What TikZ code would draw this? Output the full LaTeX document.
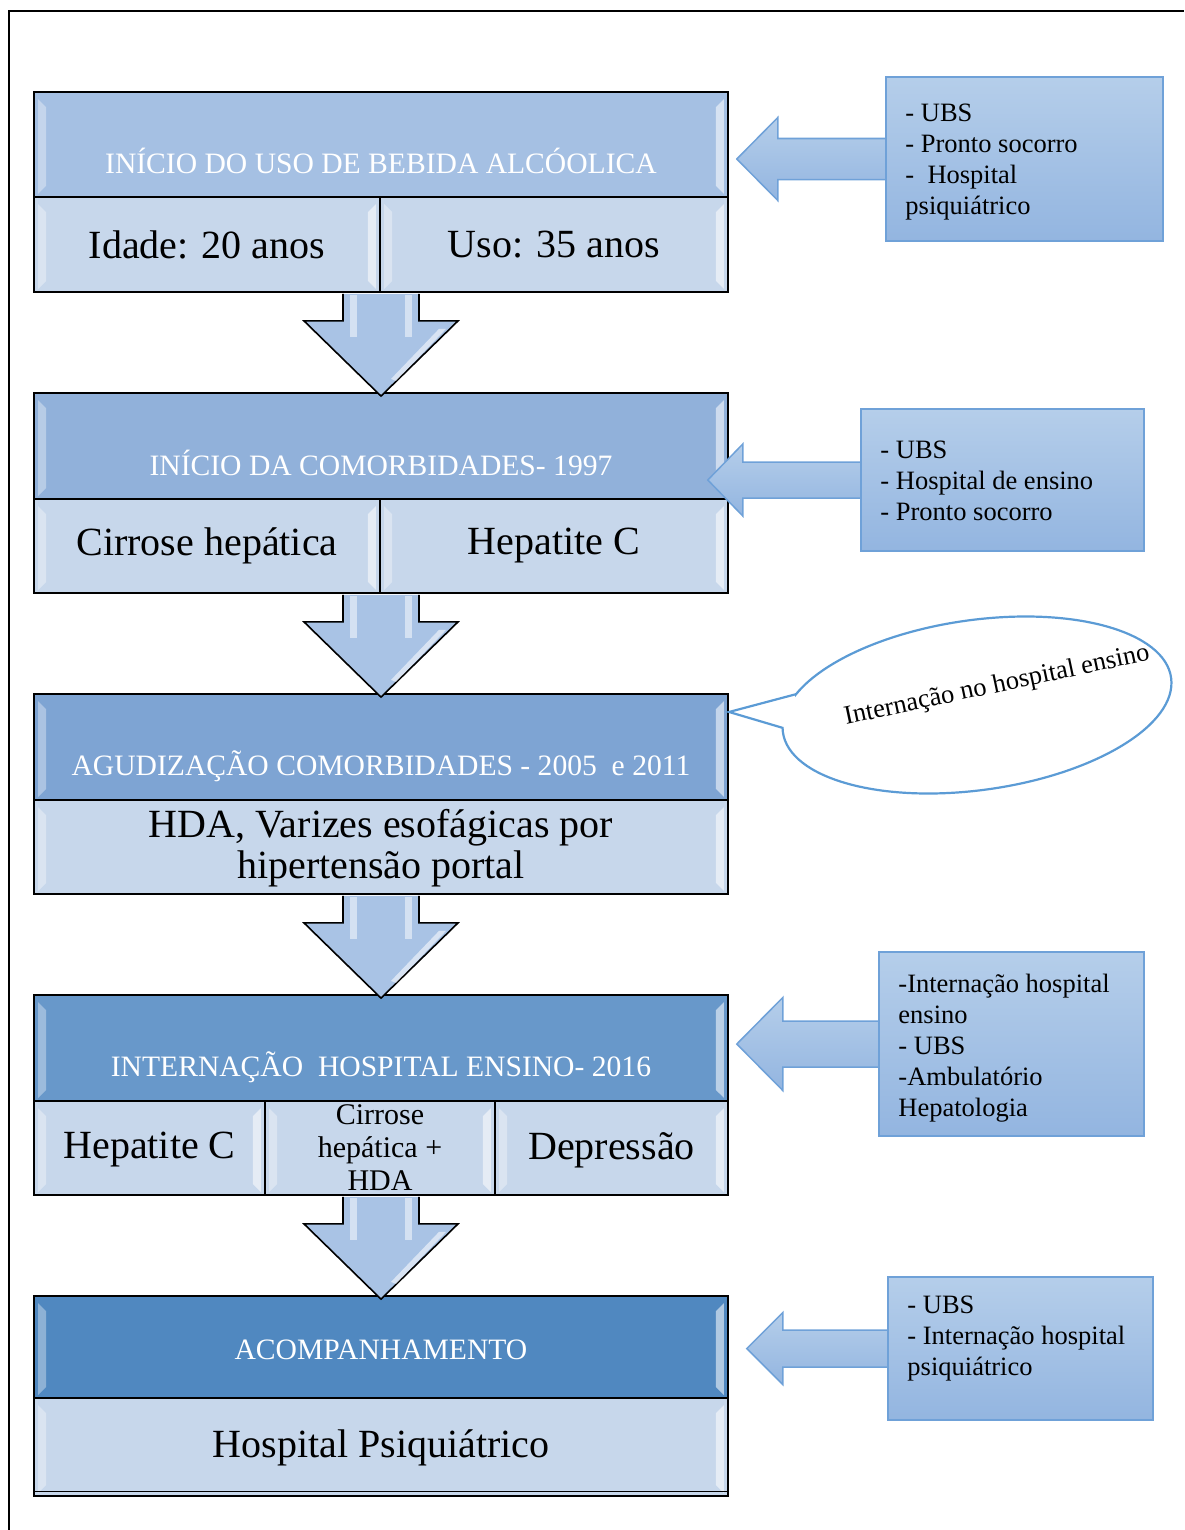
\documentclass[tikz,border=0pt]{standalone}
\usepackage{fontspec}
\setmainfont{Liberation Serif}
\usetikzlibrary{calc}

\definecolor{hdrA}{HTML}{A5C0E3}
\definecolor{hdrB}{HTML}{91B1DA}
\definecolor{hdrC}{HTML}{7EA4D3}
\definecolor{hdrD}{HTML}{6898CA}
\definecolor{hdrE}{HTML}{5088C0}
\definecolor{cellfill}{HTML}{C7D7EB}
\definecolor{arrowfill}{HTML}{A9C3E5}
\definecolor{sidetop}{HTML}{B5CEEA}
\definecolor{sidebot}{HTML}{93B5E0}
\definecolor{sideline}{HTML}{6FA1D8}
\definecolor{bubble}{HTML}{5B9BD5}

\tikzset{
  hdrbox/.style={draw=black, line width=1.8bp, minimum width=694bp, inner sep=0pt},
  cellbox/.style={draw=black, line width=1.8bp, fill=cellfill, inner sep=0pt},
  hdrtext/.style={text=white, font=\fontsize{29.6bp}{34bp}\selectfont, inner sep=0pt},
  celltext/.style={font=\fontsize{40bp}{41bp}\selectfont, align=center, inner sep=0pt},
  smalltext/.style={font=\fontsize{30bp}{33bp}\selectfont, align=center, inner sep=0pt},
  sidebox/.style={draw=sideline, line width=1.5bp, top color=sidetop, bottom color=sidebot, inner sep=0pt},
  sidetext/.style={font=\fontsize{26.5bp}{31bp}\selectfont, align=left, anchor=west, inner sep=0pt},
  sidearrow/.style={draw=sideline, line width=1.5bp, top color=sidetop, bottom color=sidebot, line join=miter},
  flowarrow/.style={draw=black, line width=1.6bp, fill=arrowfill, line join=miter},
  bubbleline/.style={draw=bubble, line width=2.2bp, fill=white},
}

% glossy edge strips inside a box
\newcommand\bevel[1]{%
  \fill[white, opacity=.35] ($(#1.north west)+(5,8)$) -- ($(#1.north west)+(13,16)$)
     -- ($(#1.south west)+(13,-12)$) -- ($(#1.south west)+(5,-4)$) -- cycle;
  \fill[white, opacity=.55] ($(#1.north east)+(-5,8)$) -- ($(#1.north east)+(-13,16)$)
     -- ($(#1.south east)+(-13,-12)$) -- ($(#1.south east)+(-5,-4)$) -- cycle;
}

% block arrow pointing down from coordinate #1 to the top of node #2
\newcommand\flowdown[2]{%
  \path[flowarrow] ($(#1)+(-38,1)$) -- ($(#1)+(-38,28)$) -- ($(#1)+(-77,28)$)
     -- ($(#2.north)+(0,4)$) -- ($(#1)+(77,28)$) -- ($(#1)+(38,28)$) -- ($(#1)+(38,1)$);
  \fill[white, opacity=.5] ($(#1)+(-31,2)$) rectangle ($(#1)+(-24,44)$);
  \fill[white, opacity=.5] ($(#1)+(24,2)$) rectangle ($(#1)+(31,44)$);
  \fill[white, opacity=.55] ($(#1)+(58,36)$) -- ($(#1)+(65,36)$) -- ($(#1)+(15,88)$) -- ($(#1)+(10,86)$) -- cycle;
}

% block arrow pointing left from the west side of box #1 to tip #2
% #3 half shaft, #4 half head, #5 head length
\newcommand\linkarrow[5]{%
  \path[sidearrow] (#2) -- ($(#2)+(#5,-#4)$) -- ($(#2)+(#5,-#3)$)
     -- ($(#1.west)+(0,-#3)$) -- ($(#1.west)+(0,#3)$)
     -- ($(#2)+(#5,#3)$) -- ($(#2)+(#5,#4)$) -- cycle;
}

\begin{document}
\begin{tikzpicture}[x=1bp, y=-1bp]
\useasboundingbox (0,0) rectangle (1184,1530);

% page frame
\draw[line width=2bp] (9,1530) -- (9,11) -- (1184,11);

% ---------- block 1 ----------
\node[hdrbox, fill=hdrA, minimum height=105bp] (hdr1) at (381,144.5) {};
\node[cellbox, minimum width=346bp, minimum height=95bp] (c1a) at (207,244.5) {};
\node[cellbox, minimum width=348bp, minimum height=95bp] (c1b) at (554,244.5) {};
\bevel{hdr1}\bevel{c1a}\bevel{c1b}
\node[hdrtext] (h1) at ($(hdr1.south)+(0,-37)$) {INÍCIO DO USO DE BEBIDA ALCÓOLICA};
\node[celltext] (t1a) at (c1a.center) {Idade: 20 anos};
\node[celltext] (t1b) at (c1b.center) {Uso: 35 anos};

% ---------- block 2 ----------
\node[hdrbox, fill=hdrB, minimum height=106bp] (hdr2) at (381,446) {};
\node[cellbox, minimum width=346bp, minimum height=94bp] (c2a) at (207,546) {};
\node[cellbox, minimum width=348bp, minimum height=94bp] (c2b) at (554,546) {};
\bevel{hdr2}\bevel{c2a}\bevel{c2b}
\node[hdrtext] (h2) at ($(hdr2.south)+(0,-37)$) {INÍCIO DA COMORBIDADES- 1997};
\node[celltext] (t2a) at (c2a.center) {Cirrose hepática};
\node[celltext] (t2b) at (c2b.center) {Hepatite C};

% ---------- block 3 ----------
\node[hdrbox, fill=hdrC, minimum height=106bp] (hdr3) at (381,747) {};
\node[cellbox, minimum width=694bp, minimum height=94bp] (c3) at (381,847) {};
\bevel{hdr3}\bevel{c3}
\node[hdrtext] (h3) at ($(hdr3.south)+(0,-35)$) {AGUDIZAÇÃO COMORBIDADES - 2005\ \ e 2011};
\node[celltext] (t3) at ($(c3.center)+(0,1)$) {HDA, Varizes esofágicas por\\hipertensão portal};

% ---------- block 4 ----------
\node[hdrbox, fill=hdrD, minimum height=106bp] (hdr4) at (381,1048) {};
\node[cellbox, minimum width=231bp, minimum height=94bp] (c4a) at (149.5,1148) {};
\node[cellbox, minimum width=230bp, minimum height=94bp] (c4b) at (380,1148) {};
\node[cellbox, minimum width=233bp, minimum height=94bp] (c4c) at (611.5,1148) {};
\bevel{hdr4}\bevel{c4a}\bevel{c4b}\bevel{c4c}
\node[hdrtext] (h4) at ($(hdr4.south)+(0,-35)$) {INTERNAÇÃO\ \ HOSPITAL ENSINO- 2016};
\node[celltext] (t4a) at ($(c4a.center)+(0,2)$) {Hepatite C};
\node[smalltext] (t4b) at (c4b.center) {Cirrose\\hepática +\\HDA};
\node[celltext] (t4c) at ($(c4c.center)+(0,2)$) {Depressão};

% ---------- block 5 ----------
\node[hdrbox, fill=hdrE, minimum height=102bp] (hdr5) at (381,1347) {};
\node[cellbox, minimum width=694bp, minimum height=98bp] (c5) at (381,1447) {};
\bevel{hdr5}\bevel{c5}
\draw[line width=1bp] ($(c5.south west)+(0,-5)$) -- ($(c5.south east)+(0,-5)$);
\node[hdrtext] (h5) at ($(hdr5.center)+(0,3)$) {ACOMPANHAMENTO};
\node[celltext] (t5) at ($(c5.center)+(0,1)$) {Hospital Psiquiátrico};

% ---------- downward arrows ----------
\coordinate (b1) at ($(hdr1.center |- c1a.south)$);
\coordinate (b2) at ($(hdr2.center |- c2a.south)$);
\coordinate (b3) at ($(hdr3.center |- c3.south)$);
\coordinate (b4) at ($(hdr4.center |- c4a.south)$);
\flowdown{b1}{hdr2}
\flowdown{b2}{hdr3}
\flowdown{b3}{hdr4}
\flowdown{b4}{hdr5}

% ---------- side notes ----------
\coordinate (sA) at (1024.5,159);
\coordinate (sB) at (1002.5,480);
\coordinate (sC) at (1011.5,1044);
\coordinate (sD) at (1020.5,1348.5);
\path (sA) node[minimum width=277bp, minimum height=164bp, inner sep=0pt] (sideA) {};
\path (sB) node[minimum width=283bp, minimum height=142bp, inner sep=0pt] (sideB) {};
\path (sC) node[minimum width=265bp, minimum height=184bp, inner sep=0pt] (sideC) {};
\path (sD) node[minimum width=265bp, minimum height=143bp, inner sep=0pt] (sideD) {};

\coordinate (tipA) at ($(sideA.west)+(-149,0)$);
\coordinate (tipB) at ($(sideB.west)+(-153,0)$);
\coordinate (tipC) at ($(sideC.west)+(-142,0)$);
\coordinate (tipD) at ($(sideD.west)+(-141,0)$);
\linkarrow{sideA}{tipA}{20.5}{41.5}{41}
\linkarrow{sideB}{tipB}{18}{36}{35}
\linkarrow{sideC}{tipC}{23}{46.5}{46}
\linkarrow{sideD}{tipD}{18.5}{36}{36}

\node[sidebox, minimum width=277bp, minimum height=164bp] (boxA) at (sA) {};
\node[sidebox, minimum width=283bp, minimum height=142bp] (boxB) at (sB) {};
\node[sidebox, minimum width=265bp, minimum height=184bp] (boxC) at (sC) {};
\node[sidebox, minimum width=265bp, minimum height=143bp] (boxD) at (sD) {};

\node[sidetext] (nA) at ($(boxA.west)+(20,3)$) {- UBS\\- Pronto socorro\\-\ \ Hospital\\psiquiátrico};
\node[sidetext] (nB) at ($(boxB.west)+(20,1)$) {- UBS\\- Hospital de ensino\\- Pronto socorro};
\node[sidetext] (nC) at ($(boxC.west)+(20,4)$) {-Internação hospital\\ensino\\- UBS\\-Ambulatório\\Hepatologia};
\node[sidetext] (nD) at ($(boxD.west)+(20,-10)$) {- UBS\\- Internação hospital\\psiquiátrico};

% ---------- speech bubble ----------
\begin{scope}[shift={(977,705)}, rotate=8]
  \path[bubbleline] (205:196 and 85) -- (-246.5,-27.6) -- (183:196 and 85)
     arc[start angle=183, end angle=-155, x radius=196, y radius=85] -- cycle;
\end{scope}
\node[font=\fontsize{26.5bp}{30bp}\selectfont, rotate=12, inner sep=0pt] (bubtext) at (997,686) {Internação no hospital ensino};

\end{tikzpicture}
\end{document}
